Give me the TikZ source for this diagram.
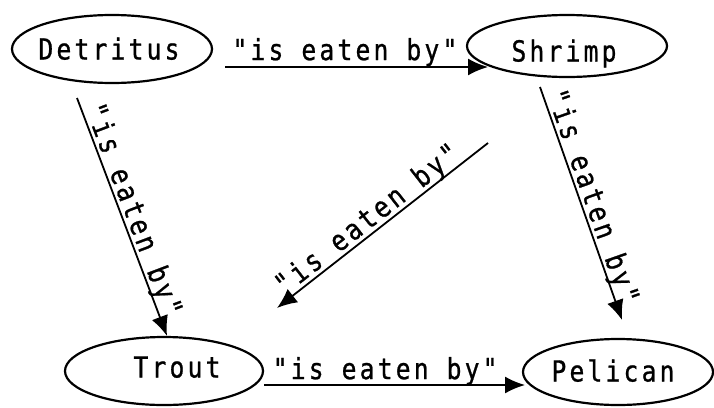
\documentclass[tikz,border=0pt]{standalone}
\usepackage{fontspec}
\setmonofont{DejaVu Sans Mono}[FakeStretch=0.85, LetterSpace=11, FakeBold=0.8]
\usetikzlibrary{arrows.meta,shapes.geometric}
\begin{document}
\begin{tikzpicture}[x=1pt,y=-1pt,
  oval/.style={draw, ellipse, line width=2.2pt, inner sep=0pt},
  txt/.style={font=\fontsize{29}{34}\selectfont\ttfamily, text height=21pt, text depth=0pt, inner sep=0pt},
  arr/.style={draw, line width=1.8pt, -{Latex[length=20pt,width=17pt]}},
  lab/.style={txt, sloped}]
\fill[white] (0,0) rectangle (714,407);
\useasboundingbox (0,0) rectangle (714,407);
% ovals
\node[oval, minimum width=200pt, minimum height=68pt] (D) at (112,49) {};
\node[txt] (Dt) at (109,49) {Detritus};
\node[oval, minimum width=200pt, minimum height=62pt] (S) at (567,46) {};
\node[txt] (St) at (564,51) {Shrimp};
\node[oval, minimum width=198pt, minimum height=68pt] (T) at (164,371) {};
\node[txt] (Tt) at (177,367) {Trout};
\node[oval, minimum width=190pt, minimum height=66pt] (P) at (618,372) {};
\node[txt] (Pt) at (613,371) {Pelican};
% connectors
\draw[arr] ([shift={(113,18)}]D.center) -- node[lab, above=6pt, pos=0.456] (l1) {"is eaten by"} ([shift={(-79,21)}]S.center);
\draw[arr] ([shift={(-35,49)}]D.center) -- node[lab, above=3pt, pos=0.49] (l2) {"is eaten by"} ([xshift=3pt]T.north);
\draw[arr] ([shift={(-27,41)}]S.center) -- node[lab, above=3pt, pos=0.49] (l3) {"is eaten by"} ([shift={(4,-52)}]P.center);
\draw[arr] ([shift={(-79,97)}]S.center) -- node[lab, above=4pt, pos=0.53] (l4) {"is eaten by"} ([shift={(113,-63)}]T.center);
\draw[arr] ([yshift=-14pt]T.east) -- node[lab, above=5pt, pos=0.464] (l5) {"is eaten by"} ([shift={(-93,13)}]P.center);
\end{tikzpicture}
\end{document}
